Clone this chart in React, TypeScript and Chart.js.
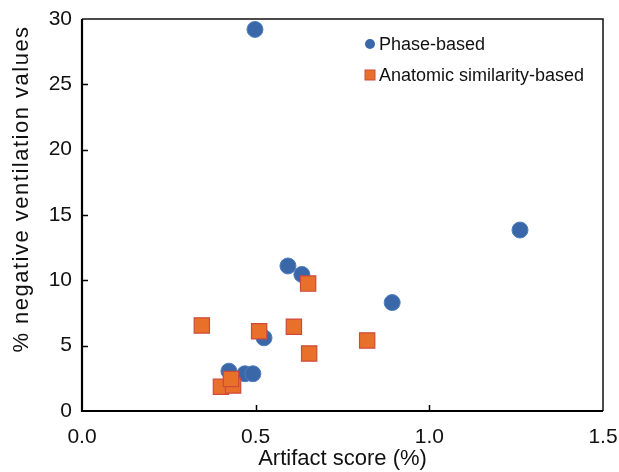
import React, { useEffect, useRef } from "react";
import { Chart, registerables } from "chart.js";

Chart.register(...registerables);

const phaseX = [0.498, 1.261, 0.593, 0.633, 0.893, 0.524, 0.423, 0.469, 0.492];
const phaseY = [29.2, 13.85, 11.1, 10.45, 8.3, 5.6, 3.05, 2.85, 2.85];

const anatX = [0.345, 0.651, 0.51, 0.61, 0.654, 0.821, 0.4, 0.435, 0.429];
const anatY = [6.55, 9.75, 6.1, 6.45, 4.4, 5.4, 1.85, 1.95, 2.45];

const seriesNames = ["Phase-based", "Anatomic similarity-based"];
const xTicks = [0, 0.5, 1.0, 1.5];
const yTicks = [0, 5, 10, 15, 20, 25, 30];
const xTitle = "Artifact score (%)";
const yTitle = "% negative ventilation values";

const FONT = "'Liberation Sans', Arial, Helvetica, sans-serif";
const BLUE = "#3a67a8";
const BLUE_EDGE = "#4f7fbf";
const ORANGE = "#e8702a";
const ORANGE_EDGE = "#cf4a3a";

const framePlugin = {
  id: "frameAndLegend",
  afterDatasetsDraw(chart: any) {
    const { ctx, chartArea } = chart;
    const { left, right, top, bottom } = chartArea;
    const xs = chart.scales.x;
    const ys = chart.scales.y;
    ctx.save();
    // frame
    ctx.strokeStyle = "#111";
    ctx.lineWidth = 1.5;
    ctx.beginPath();
    ctx.moveTo(left, top);
    ctx.lineTo(right, top);
    ctx.lineTo(right, bottom);
    ctx.stroke();
    ctx.strokeStyle = "#000";
    ctx.lineWidth = 2.2;
    ctx.beginPath();
    ctx.moveTo(left, top);
    ctx.lineTo(left, bottom);
    ctx.lineTo(right, bottom);
    ctx.stroke();
    // inward ticks
    ctx.lineWidth = 1.5;
    ctx.beginPath();
    yTicks.forEach((v) => {
      if (v === yTicks[0] || v === yTicks[yTicks.length - 1]) return;
      const py = Math.round(ys.getPixelForValue(v)) + 0.5;
      ctx.moveTo(left, py);
      ctx.lineTo(left + 6, py);
    });
    xTicks.forEach((v) => {
      if (v === xTicks[0] || v === xTicks[xTicks.length - 1]) return;
      const px = Math.round(xs.getPixelForValue(v)) + 0.5;
      ctx.moveTo(px, bottom);
      ctx.lineTo(px, bottom - 6);
    });
    ctx.stroke();
    // legend
    const lx = left + 288;
    const ly1 = top + 25;
    const ly2 = top + 56;
    ctx.font = `18px ${FONT}`;
    ctx.textBaseline = "middle";
    ctx.textAlign = "left";
    ctx.fillStyle = BLUE;
    ctx.beginPath();
    ctx.arc(lx, ly1, 5, 0, Math.PI * 2);
    ctx.fill();
    ctx.fillStyle = ORANGE;
    ctx.fillRect(lx - 5, ly2 - 5, 10, 10);
    ctx.strokeStyle = ORANGE_EDGE;
    ctx.lineWidth = 1;
    ctx.strokeRect(lx - 5, ly2 - 5, 10, 10);
    ctx.fillStyle = "#111";
    ctx.fillText(seriesNames[0], lx + 9, ly1 + 1);
    ctx.fillText(seriesNames[1], lx + 9, ly2 + 1);
    // y title
    ctx.translate(22, 189);
    ctx.rotate(-Math.PI / 2);
    ctx.font = `22px ${FONT}`;
    try {
      (ctx as any).letterSpacing = "1.5px";
    } catch (e) {}
    ctx.textAlign = "center";
    ctx.textBaseline = "middle";
    ctx.fillStyle = "#111";
    ctx.fillText(yTitle, 0, 0);
    ctx.restore();
  },
};

export default function App() {
  const ref = useRef<HTMLCanvasElement | null>(null);
  useEffect(() => {
    if (!ref.current) return;
    const chart = new Chart(ref.current, {
      type: "scatter",
      data: {
        datasets: [
          {
            label: seriesNames[0],
            data: phaseX.map((x, i) => ({ x, y: phaseY[i] })),
            backgroundColor: BLUE,
            borderColor: BLUE_EDGE,
            borderWidth: 1,
            pointStyle: "circle",
            pointRadius: 8,
            order: 2,
            clip: false,
          },
          {
            label: seriesNames[1],
            data: anatX.map((x, i) => ({ x, y: anatY[i] })),
            backgroundColor: ORANGE,
            borderColor: ORANGE_EDGE,
            borderWidth: 1.2,
            pointStyle: "rect",
            pointRadius: 10.8,
            order: 1,
            clip: false,
          },
        ],
      },
      options: {
        animation: false,
        responsive: true,
        maintainAspectRatio: false,
        layout: { padding: { left: 0, top: 19, right: 16, bottom: 0 } },
        plugins: {
          legend: { display: false },
          tooltip: { enabled: false },
        },
        scales: {
          x: {
            type: "linear",
            min: 0,
            max: 1.5,
            afterBuildTicks: (s: any) => {
              s.ticks = xTicks.map((v) => ({ value: v }));
            },
            afterFit: (s: any) => {
              s.height = 61;
              s.paddingLeft = 0;
              s.paddingRight = 0;
            },
            grid: { display: false, drawTicks: false },
            border: { display: false },
            ticks: {
              color: "#111",
              font: { family: FONT, size: 21 },
              padding: 14,
              callback: (v: any) => Number(v).toFixed(1),
              maxRotation: 0,
            },
            title: {
              display: true,
              text: xTitle,
              color: "#111",
              font: { family: FONT, size: 22 },
              padding: { top: 0, bottom: 0 },
            },
          },
          y: {
            type: "linear",
            min: 0,
            max: 30,
            afterBuildTicks: (s: any) => {
              s.ticks = yTicks.map((v) => ({ value: v }));
            },
            afterFit: (s: any) => {
              s.width = 82;
              s.paddingTop = 0;
              s.paddingBottom = 0;
            },
            grid: { display: false, drawTicks: false },
            border: { display: false },
            ticks: {
              color: "#111",
              font: { family: FONT, size: 21 },
              padding: 10,
            },
            title: { display: false },
          },
        },
      },
      plugins: [framePlugin],
    });
    return () => chart.destroy();
  }, []);
  return (
    <div style={{ position: "absolute", left: 0, top: 0, width: 619, height: 472, background: "#fff" }}>
      <canvas ref={ref} />
    </div>
  );
}
